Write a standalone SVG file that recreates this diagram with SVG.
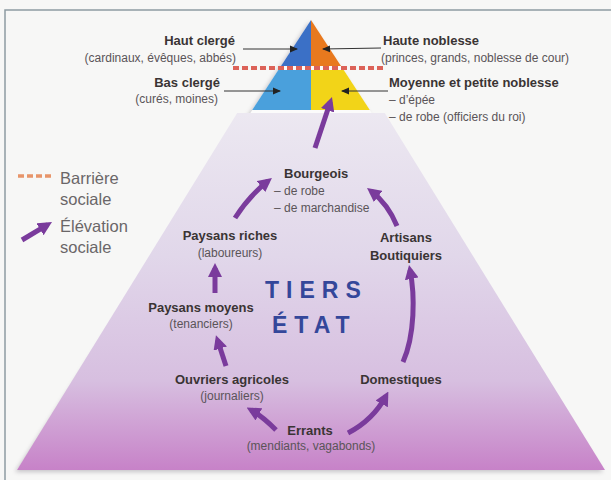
<svg xmlns="http://www.w3.org/2000/svg" width="611" height="480" viewBox="0 0 611 480">
<defs>
<linearGradient id="tiers" x1="0" y1="113" x2="0" y2="470" gradientUnits="userSpaceOnUse">
<stop offset="0" stop-color="#ece8f1"/>
<stop offset="0.4" stop-color="#e1d7ea"/>
<stop offset="0.75" stop-color="#d7bfe0"/>
<stop offset="1" stop-color="#c782c8"/>
</linearGradient>
<filter id="shadow" x="-10%" y="-10%" width="120%" height="120%">
<feGaussianBlur stdDeviation="2"/>
</filter>
<marker id="big" viewBox="0 0 14 14" markerWidth="14" markerHeight="14" refX="9" refY="7" orient="auto" markerUnits="userSpaceOnUse">
<path d="M0,0 L14,7 L0,14 z" fill="#7a3b9c"/>
</marker>
<marker id="small" viewBox="0 0 8 8" markerWidth="8" markerHeight="8" refX="7" refY="4" orient="auto" markerUnits="userSpaceOnUse">
<path d="M0,0.5 L8,4 L0,7.5 z" fill="#222"/>
</marker>
<style>
.t{font-family:"Liberation Sans",Arial,sans-serif;font-size:13px;font-weight:bold;fill:#3a3434}
.s{font-family:"Liberation Sans",Arial,sans-serif;font-size:12px;fill:#5a5458}
.lg{font-family:"Liberation Sans",Arial,sans-serif;font-size:16.5px;fill:#6a6668}
.te{font-family:"Liberation Sans",Arial,sans-serif;font-size:23px;font-weight:bold;fill:#34479a;letter-spacing:7px}
.up{fill:none;stroke:#7a3b9c;stroke-width:5;marker-end:url(#big)}
.ln{fill:none;stroke:#333;stroke-width:1;marker-end:url(#small)}
.bar{fill:none;stroke:#dc6258;stroke-width:4;stroke-dasharray:6 3}
.m{text-anchor:middle}
.e{text-anchor:end}
</style>
</defs>
<rect x="0" y="0" width="611" height="480" fill="#f7f7f6"/>
<path d="M5,480 L5,10 L611,10" fill="none" stroke="#8e9ca2" stroke-width="1.5"/>

<g id="pyramide">
<polygon points="309,22 603,472 15,472" fill="#6a6470" opacity="0.35" filter="url(#shadow)"/>
<polygon points="311,20 605,470 17,470" fill="#fbfbfb"/>
<polygon points="237.2,113 384.8,113 605,470 17,470" fill="url(#tiers)"/>
<polygon points="311,20 311,66 281,66" fill="#3b70c6"/>
<polygon points="311,20 341,66 311,66" fill="#e8791e"/>
<polygon points="278.3,70 311,70 311,110 252.2,110" fill="#4aa0dc"/>
<polygon points="311,70 343.7,70 369.8,110 311,110" fill="#f2d418"/>
</g>

<g id="barriere">
<line x1="233" y1="68" x2="384" y2="68" class="bar"/>
</g>

<g id="haut-clerge">
<text x="235" y="45" class="t e">Haut clergé</text>
<text x="236" y="62" class="s e">(cardinaux, évêques, abbés)</text>
</g>
<g id="haute-noblesse">
<text x="383" y="45" class="t">Haute noblesse</text>
<text x="381" y="62" class="s">(princes, grands, noblesse de cour)</text>
</g>
<g id="bas-clerge">
<text x="220" y="87" class="t e">Bas clergé</text>
<text x="218" y="103" class="s e">(curés, moines)</text>
</g>
<g id="moyenne-noblesse">
<text x="389" y="87" class="t">Moyenne et petite noblesse</text>
<text x="389" y="104" class="s">– d’épée</text>
<text x="389" y="121" class="s">– de robe (officiers du roi)</text>
</g>

<g id="legende">
<line x1="18" y1="176" x2="53" y2="176" stroke="#e8956a" stroke-width="3.5" stroke-dasharray="6 3"/>
<text x="60" y="184" class="lg">Barrière</text>
<text x="60" y="205" class="lg">sociale</text>
<path d="M22,240 L47.7,224.6" class="up"/>
<text x="60" y="232" class="lg">Élévation</text>
<text x="60" y="253" class="lg">sociale</text>
</g>

<g id="bourgeois">
<text x="284" y="178" class="t">Bourgeois</text>
<text x="274" y="195" class="s">– de robe</text>
<text x="274" y="212" class="s">– de marchandise</text>
</g>
<g id="paysans-riches">
<text x="230" y="240" class="t m">Paysans riches</text>
<text x="230" y="257" class="s m">(laboureurs)</text>
</g>
<g id="artisans">
<text x="406" y="242" class="t m">Artisans</text>
<text x="406" y="260" class="t m">Boutiquiers</text>
</g>
<g id="tiers-etat">
<text x="265" y="298" class="te">TIERS</text>
<text x="272" y="333" class="te">ÉTAT</text>
</g>
<g id="paysans-moyens">
<text x="201" y="312" class="t m">Paysans moyens</text>
<text x="201" y="328" class="s m">(tenanciers)</text>
</g>
<g id="ouvriers">
<text x="232" y="384" class="t m">Ouvriers agricoles</text>
<text x="232" y="400" class="s m">(journaliers)</text>
</g>
<g id="domestiques">
<text x="401" y="384" class="t m">Domestiques</text>
</g>
<g id="errants">
<text x="310" y="435" class="t m">Errants</text>
<text x="311" y="450" class="s m">(mendiants, vagabonds)</text>
</g>

<g id="connectors">
<line x1="243" y1="49" x2="297" y2="49" class="ln"/>
<line x1="381" y1="48" x2="323" y2="49" class="ln"/>
<line x1="224" y1="91" x2="280" y2="91" class="ln"/>
<line x1="388" y1="91" x2="342" y2="91" class="ln"/>
<path d="M315,148 L330.4,101.7" class="up"/>
<path d="M235,218 Q249,196 268,181" class="up"/>
<path d="M397,226 Q388,204 371,191" class="up"/>
<path d="M215,293 L215,268" class="up"/>
<path d="M226,366 L217.5,340" class="up"/>
<path d="M276,430 Q262,416 251,410" class="up"/>
<path d="M348,433 Q373,420 386,396" class="up"/>
<path d="M403,362 C415,335 415,295 410,270" class="up"/>
</g>
</svg>
